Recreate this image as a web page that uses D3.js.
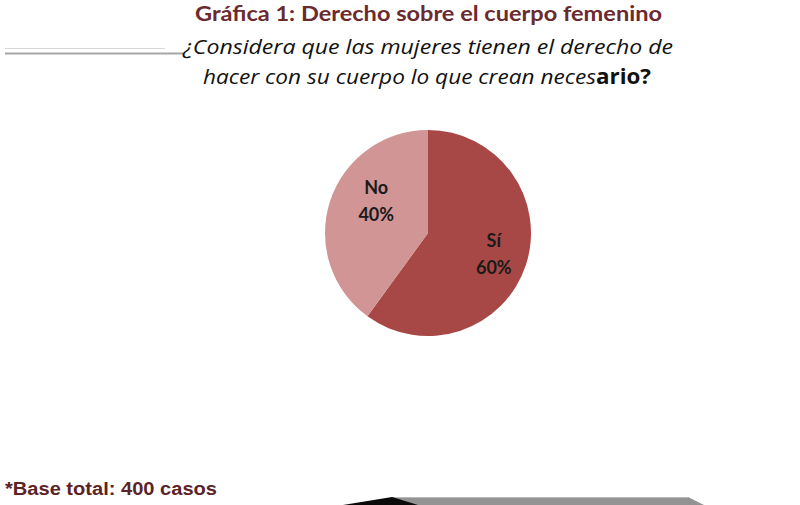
<!DOCTYPE html>
<html>
<head>
<meta charset="utf-8">
<script src="https://cdn.jsdelivr.net/npm/d3@7/dist/d3.min.js"></script>
<style>
  html, body { margin: 0; padding: 0; background: #ffffff; }
  svg { display: block; }
</style>
</head>
<body>
<div id="chart"></div>
<script>
// ---- Data ----
const categories = ["Sí", "No"];
const values = [60, 40];
const percentLabels = ["60%", "40%"];
const colors = ["#a84846", "#d09594"];

const titleText = "Gráfica 1: Derecho sobre el cuerpo femenino";
const subtitleLine1 = "¿Considera que las mujeres tienen el derecho de";
const subtitleLine2a = "hacer con su cuerpo lo que crean neces";
const subtitleLine2b = "ario?";
const footnoteText = "*Base total: 400 casos";

// ---- Layout ----
const W = 800, H = 505;
const svg = d3.select("#chart").append("svg").attr("width", W).attr("height", H);

// Decorative lines at left
svg.append("line").attr("x1", 5).attr("x2", 165).attr("y1", 48.5).attr("y2", 48.5)
  .attr("stroke", "#d8d8d8").attr("stroke-width", 1.2);
svg.append("line").attr("x1", 5).attr("x2", 184).attr("y1", 53.5).attr("y2", 53.5)
  .attr("stroke", "#a6a6a6").attr("stroke-width", 2);

// Title
svg.append("text").attr("x", 195).attr("y", 21)
  .attr("font-family", "Lato, 'Open Sans', sans-serif").attr("font-weight", "bold")
  .attr("font-size", 21).attr("fill", "#6b2a2e")
  .attr("textLength", 467).attr("lengthAdjust", "spacingAndGlyphs")
  .text(titleText);

// Subtitle
svg.append("text").attr("x", 183).attr("y", 54)
  .attr("font-family", "'Open Sans', Lato, sans-serif").attr("font-style", "italic")
  .attr("font-size", 20.5).attr("fill", "#111")
  .attr("textLength", 490).attr("lengthAdjust", "spacingAndGlyphs")
  .text(subtitleLine1);

const l2 = svg.append("text").attr("x", 203).attr("y", 84)
  .attr("font-family", "'Open Sans', Lato, sans-serif")
  .attr("font-size", 20.5).attr("fill", "#111");
l2.append("tspan").attr("font-style", "italic")
  .attr("textLength", 393).attr("lengthAdjust", "spacingAndGlyphs").text(subtitleLine2a);
l2.append("tspan").attr("font-weight", "bold")
  .attr("textLength", 55).attr("lengthAdjust", "spacingAndGlyphs").text(subtitleLine2b);

// Pie
const cx = 428, cy = 233, R = 103;
const data = categories.map((c, i) => ({ cat: c, value: values[i], label: percentLabels[i], color: colors[i] }));
const pie = d3.pie().value(d => d.value).sort(null).startAngle(0).endAngle(2 * Math.PI);
const arc = d3.arc().innerRadius(0).outerRadius(R);
const labelArc = d3.arc().innerRadius(66).outerRadius(66);
const nudge = { "Sí": [3, 1], "No": [11, -12] };

const g = svg.append("g").attr("transform", `translate(${cx},${cy})`);
const arcs = pie(data);
g.selectAll("path.slice").data(arcs).enter().append("path")
  .attr("class", "slice").attr("d", arc).attr("fill", d => d.data.color);

const lbl = g.selectAll("text.lbl").data(arcs).enter().append("text")
  .attr("class", "lbl")
  .attr("transform", d => {
    const c = labelArc.centroid(d);
    const n = nudge[d.data.cat] || [0, 0];
    return `translate(${c[0] + n[0]},${c[1] + n[1]})`;
  })
  .attr("text-anchor", "middle")
  .attr("font-family", "Lato, 'Open Sans', sans-serif").attr("font-weight", "bold")
  .attr("font-size", 18).attr("fill", "#1a1a1a");
lbl.append("tspan").attr("x", 0).attr("y", -7).text(d => d.data.cat);
lbl.append("tspan").attr("x", 0).attr("y", 20).text(d => d.data.label);

// Footnote
svg.append("text").attr("x", 5).attr("y", 495)
  .attr("font-family", "'Liberation Sans Narrow', 'Arial Narrow', sans-serif")
  .attr("font-weight", "bold").attr("font-size", 18).attr("fill", "#5b2327")
  .attr("textLength", 212).attr("lengthAdjust", "spacingAndGlyphs")
  .text(footnoteText);

// Decorative bottom shapes
svg.append("path").attr("d", "M392,497 L688,497 L704,505 L392,505 Z").attr("fill", "#939393");
svg.append("line").attr("x1", 392).attr("x2", 688).attr("y1", 497.5).attr("y2", 497.5)
  .attr("stroke", "#b8b8b8").attr("stroke-width", 1);
svg.append("path").attr("d", "M343,505 L392,497 L418,505 Z").attr("fill", "#0a0a0a");
</script>
</body>
</html>
